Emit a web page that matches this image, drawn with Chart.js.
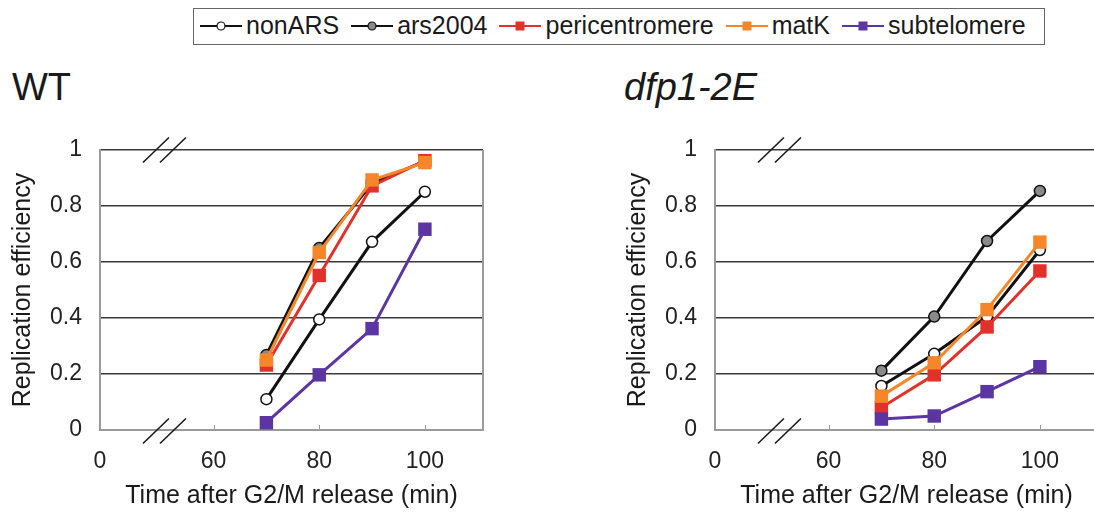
<!DOCTYPE html>
<html>
<head>
<meta charset="utf-8">
<script src="https://cdn.jsdelivr.net/npm/chart.js@4/dist/chart.umd.min.js"></script>
<style>
  html, body { margin: 0; padding: 0; background: #fff; }
  body { width: 1094px; height: 514px; overflow: hidden; position: relative;
         font-family: 'Liberation Sans', Arial, Helvetica, sans-serif; color: #1a1a1a; }
  canvas { position: absolute; top: 130px; }
  #wt { left: 0; }
  #dfp { left: 615px; }
  .panelTitle { position: absolute; top: 68px; font-size: 38px; line-height: 1; }
  #legend { position: absolute; left: 193px; top: 8px; width: 844px; height: 33px;
            border: 1.5px solid #666; display: flex; align-items: center; padding-bottom: 2px;
            box-sizing: content-box; }
  .item { display: flex; align-items: center; font-size: 25px; line-height: 1; }
  .item svg { margin-right: 4px; }
  .item span { margin-right: 12px; }
</style>
</head>
<body>
<div id="legend"></div>
<div class="panelTitle" style="left:12px">WT</div>
<div class="panelTitle" style="left:624px; font-style:italic">dfp1-2E</div>
<canvas id="wt" width="500" height="384"></canvas>
<canvas id="dfp" width="500" height="384"></canvas>
<script>
// time points (min after G2/M release)
const timePoints = [70, 80, 90, 100]
const xTickValues = [60, 80, 100]
const xBreakLabel = '0'
const seriesNames = ['nonARS', 'ars2004', 'pericentromere', 'matK', 'subtelomere']

// WT
const wtNonARS = [0.11, 0.395, 0.672, 0.851]
const wtArs2004 = [0.268, 0.65, 0.88, 0.96]
const wtPericentromere = [0.232, 0.552, 0.872, 0.962]
const wtMatK = [0.25, 0.634, 0.893, 0.955]
const wtSubtelomere = [0.026, 0.197, 0.362, 0.717]

// dfp1-2E
const dfpNonARS = [0.157, 0.272, 0.405, 0.643]
const dfpArs2004 = [0.212, 0.405, 0.675, 0.854]
const dfpPericentromere = [0.08, 0.197, 0.368, 0.568]
const dfpMatK = [0.121, 0.24, 0.43, 0.671]
const dfpSubtelomere = [0.039, 0.05, 0.137, 0.226]

const xMin = 38.5
const xMax = 111
const breakAt = 50.7

const styles = [
    { color: '#111111', point: 'circle', fill: '#ffffff' },
    { color: '#111111', point: 'circle', fill: '#8a8a8a' },
    { color: '#e2312b', point: 'rect', fill: '#e2312b' },
    { color: '#f5862a', point: 'rect', fill: '#f5862a' },
    { color: '#5b36a3', point: 'rect', fill: '#5b36a3' },
]

const fontFamily = "'Liberation Sans', Arial, Helvetica, sans-serif"

// legend
const legend = document.getElementById('legend')
legend.style.paddingLeft = '6px'
seriesNames.forEach((name, i) => {
    const s = styles[i]
    const item = document.createElement('div')
    item.className = 'item'
    let marker
    if (s.point === 'circle') {
        marker = `<circle cx="21" cy="10" r="4" fill="${s.fill}" stroke="#111" stroke-width="1.2"/>`
    } else {
        marker = `<rect x="16.5" y="5.5" width="9" height="9" fill="${s.fill}"/>`
    }
    item.innerHTML = `<svg width="42" height="20"><line x1="0" y1="10" x2="42" y2="10" stroke="${s.color}" stroke-width="2"/>${marker}</svg><span>${name}</span>`
    legend.appendChild(item)
})

const framePlugin = {
    id: 'frame',
    beforeDatasetsDraw(chart) {
        const { ctx, chartArea: { left, right, top, bottom } } = chart
        const x = chart.scales.x
        ctx.save()
        // right border
        ctx.strokeStyle = '#9a9a9a'
        ctx.lineWidth = 2
        ctx.beginPath()
        ctx.moveTo(right, top)
        ctx.lineTo(right, bottom)
        ctx.stroke()
        // small inner ticks
        ctx.lineWidth = 1
        xTickValues.forEach(v => {
            const px = Math.round(x.getPixelForValue(v)) + 0.5
            ctx.beginPath()
            ctx.moveTo(px, bottom)
            ctx.lineTo(px, bottom - 5)
            ctx.stroke()
        })
        // axis break marks
        const cx = x.getPixelForValue(breakAt)
        ctx.strokeStyle = '#1a1a1a'
        ctx.lineWidth = 1.6
        ;[top, bottom + 1].forEach(cy => {
            ;[-8.5, 8.5].forEach(dx => {
                ctx.beginPath()
                ctx.moveTo(cx + dx - 13, cy + 12.5)
                ctx.lineTo(cx + dx + 13, cy - 12.5)
                ctx.stroke()
            })
        })
        ctx.restore()
    }
}

function makePanel(id, values) {
    const datasets = values.map((data, i) => {
        const s = styles[i]
        return {
            label: seriesNames[i],
            data: timePoints.map((t, j) => ({ x: t, y: data[j] })),
            borderColor: s.color,
            borderWidth: 3,
            pointStyle: s.point,
            pointRadius: s.point === 'circle' ? 5.5 : 9.5,
            pointBackgroundColor: s.fill,
            pointBorderColor: s.point === 'circle' ? '#111' : s.fill,
            pointBorderWidth: s.point === 'circle' ? 1.5 : 0,
            tension: 0,
            order: values.length - i,
        }
    })

    return new Chart(document.getElementById(id), {
        type: 'line',
        data: { datasets },
        options: {
            responsive: false,
            animation: false,
            layout: { padding: { top: 20, right: 17, left: 0, bottom: 0 } },
            plugins: { legend: { display: false }, tooltip: { enabled: false } },
            scales: {
                x: {
                    type: 'linear',
                    min: xMin,
                    max: xMax,
                    afterBuildTicks: scale => {
                        scale.ticks = [xMin, ...xTickValues].map(v => ({ value: v }))
                    },
                    afterFit: scale => { scale.height = 84 },
                    grid: { display: false, drawTicks: false },
                    border: { display: true, color: '#9a9a9a', width: 2 },
                    ticks: {
                        autoSkip: false,
                        maxRotation: 0,
                        padding: 18,
                        color: '#222',
                        font: { family: fontFamily, size: 23 },
                        callback: v => v === xMin ? xBreakLabel : String(v),
                    },
                    title: {
                        display: true,
                        text: 'Time after G2/M release (min)',
                        color: '#1a1a1a',
                        font: { family: fontFamily, size: 25 },
                        padding: { top: 0, bottom: 3 },
                    },
                },
                y: {
                    min: 0,
                    max: 1,
                    afterFit: scale => {
                        scale.width = 100
                        scale.paddingTop = 0
                        scale.paddingBottom = 0
                    },
                    grid: {
                        drawTicks: false,
                        lineWidth: 1.5,
                        color: ctx => ctx.tick && ctx.tick.value === 0 ? 'rgba(0,0,0,0)' : '#3a3a3a',
                    },
                    border: { display: true, color: '#9a9a9a', width: 2 },
                    ticks: {
                        stepSize: 0.2,
                        padding: 18,
                        color: '#222',
                        font: { family: fontFamily, size: 23 },
                        callback: v => String(Math.round(v * 10) / 10),
                    },
                    title: {
                        display: true,
                        text: 'Replication efficiency',
                        color: '#1a1a1a',
                        font: { family: fontFamily, size: 25 },
                        padding: { top: 8, bottom: 0 },
                    },
                },
            },
        },
        plugins: [framePlugin],
    })
}

makePanel('wt', [wtNonARS, wtArs2004, wtPericentromere, wtMatK, wtSubtelomere])
makePanel('dfp', [dfpNonARS, dfpArs2004, dfpPericentromere, dfpMatK, dfpSubtelomere])
</script>
</body>
</html>
